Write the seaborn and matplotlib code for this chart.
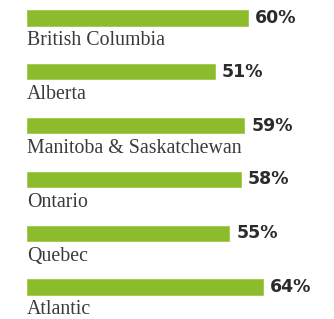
# Horizontal bar chart of regional percentages, labels under each bar

import pandas as pd
import matplotlib
matplotlib.use("Agg")
import matplotlib.pyplot as plt
import seaborn as sns

# Data
regions = ["British Columbia", "Alberta", "Manitoba & Saskatchewan",
           "Ontario", "Quebec", "Atlantic"]
percents = [60, 51, 59, 58, 55, 64]

df = pd.DataFrame({"region": regions, "pct": percents})

sns.set_style("white")

fig = plt.figure(figsize=(3.34, 3.19), dpi=100)
ax = fig.add_axes([0, 0, 1, 1])

sns.barplot(data=df, x="pct", y="region", orient="h", color="#8cbb2c",
            saturation=1, width=0.28, edgecolor="#9dc94a", linewidth=0.6, ax=ax)

# Percent labels to the right of each bar, region names underneath
for i, (name, val) in enumerate(zip(regions, percents)):
    ax.text(val + 1.9, i, f"{val}%", va="center", ha="left",
            fontsize=12.5, fontweight="bold", color="#2b2b2b",
            family="DejaVu Sans")
    ax.text(0, i + 0.25, name, va="top", ha="left", fontsize=14.3,
            color="#3a3a3a", family="Liberation Serif")

ax.set_xlim(-7.34, 83.4)
ax.set_ylim(5.595, -0.335)
ax.set_axis_off()

plt.savefig("out.png", dpi=100)
